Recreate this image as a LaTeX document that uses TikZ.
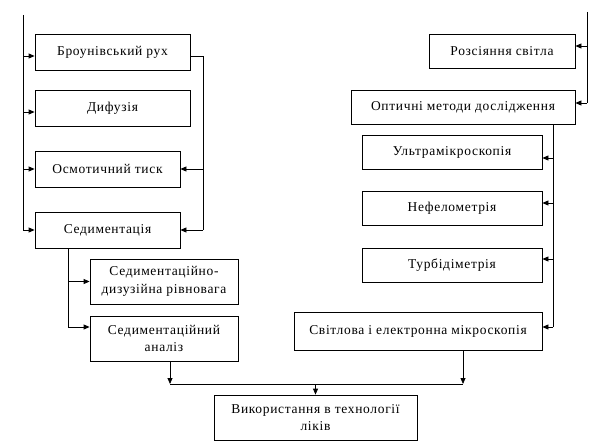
\documentclass[tikz,border=0pt]{standalone}
\usepackage{fontspec}
\setmainfont{Liberation Serif}[LetterSpace=5]
\usetikzlibrary{arrows.meta}

\begin{document}
\begin{tikzpicture}[x=1pt, y=-1pt, >={Triangle[length=6pt,width=5pt]}, line width=0.8pt,
    box/.style={draw, inner sep=0pt, align=center, font=\fontsize{13.5}{17.5}\selectfont}]
  \useasboundingbox (0,0) rectangle (599,441);

  % 1. ліва колонка
  \node[box, minimum width=155pt, minimum height=36pt] (brown) at (112.5,52) {Броунівський рух};
  \node[box, minimum width=155pt, minimum height=36pt] (dyf) at (112.5,108) {Дифузія};
  \node[box, minimum width=145pt, minimum height=36pt] (osm) at (107.5,169) {Осмотичний тиск};
  \node[box, minimum width=145pt, minimum height=36pt] (sedim) at (107.5,230) {Седиментація};
  \node[box, minimum width=148pt, minimum height=45pt] (sedrivn) at (164,281.5) {Седиментаційно-\\дизузійна рівновага};
  \node[box, minimum width=148pt, minimum height=45pt] (sedanal) at (164,338.5) {Седиментаційний\\аналіз};

  % 2. права колонка
  \node[box, minimum width=146pt, minimum height=34pt] (rozs) at (502,51) {Розсіяння світла};
  \node[box, minimum width=224pt, minimum height=34pt] (optic) at (463,107) {Оптичні методи дослідження};
  \node[box, minimum width=180pt, minimum height=34pt] (ultra) at (452,152) {Ультрамікроскопія};
  \node[box, minimum width=180pt, minimum height=34pt] (nefelo) at (452,208) {Нефелометрія};
  \node[box, minimum width=180pt, minimum height=34pt] (turbo) at (452,265) {Турбідіметрія};
  \node[box, minimum width=248pt, minimum height=38pt] (svitl) at (418,331) {Світлова і електронна мікроскопія};

  % 3. нижній блок
  \node[box, minimum width=203pt, minimum height=45pt] (vykor) at (315.5,417.5) {Використання в технології\\ліків};

  % 4. лінії зліва
  \coordinate (ltop) at (23,15);
  \draw (ltop) -- (ltop |- sedim.west);
  \foreach \n/\s in {brown/-4, dyf/-4, osm/0, sedim/0}
    \draw[->] ([yshift=\s pt]\n.west -| ltop) -- ([yshift=\s pt]\n.west);

  \coordinate (rfb) at (203,56);
  \draw ([yshift=-4pt]brown.east) -- (rfb) -- (rfb |- sedim.east);
  \draw[->] (rfb |- osm.east) -- (osm.east);
  \draw[->] (rfb |- sedim.east) -- (sedim.east);

  \coordinate (sx) at (68,0);
  \draw (sedim.south -| sx) -- ([yshift=11.5pt]sedanal.west -| sx);
  \draw[->] (sedrivn.west -| sx) -- (sedrivn.west);
  \draw[->] ([yshift=11.5pt]sedanal.west -| sx) -- ([yshift=11.5pt]sedanal.west);

  % 5. лінії справа
  \coordinate (rtop) at (587,12);
  \draw (rtop) -- ([yshift=4pt]optic.east -| rtop);
  \draw[->] ([yshift=5pt]rozs.east -| rtop) -- ([yshift=5pt]rozs.east);
  \draw[->] ([yshift=4pt]optic.east -| rtop) -- ([yshift=4pt]optic.east);

  \coordinate (ox) at (553,0);
  \draw (optic.south -| ox) -- ([yshift=4pt]svitl.east -| ox);
  \foreach \n/\s in {ultra/-6, nefelo/5, turbo/6, svitl/4}
    \draw[->] ([yshift=\s pt]\n.east -| ox) -- ([yshift=\s pt]\n.east);

  % 6. збірна лінія
  \coordinate (bl) at (170,384);
  \coordinate (br) at (463,384);
  \draw (bl) -- (br);
  \draw[->] (sedanal.south -| bl) -- (bl);
  \draw[->] (svitl.south -| br) -- (br);
  \draw[->] (vykor.north |- bl) -- (vykor.north);
\end{tikzpicture}
\end{document}
